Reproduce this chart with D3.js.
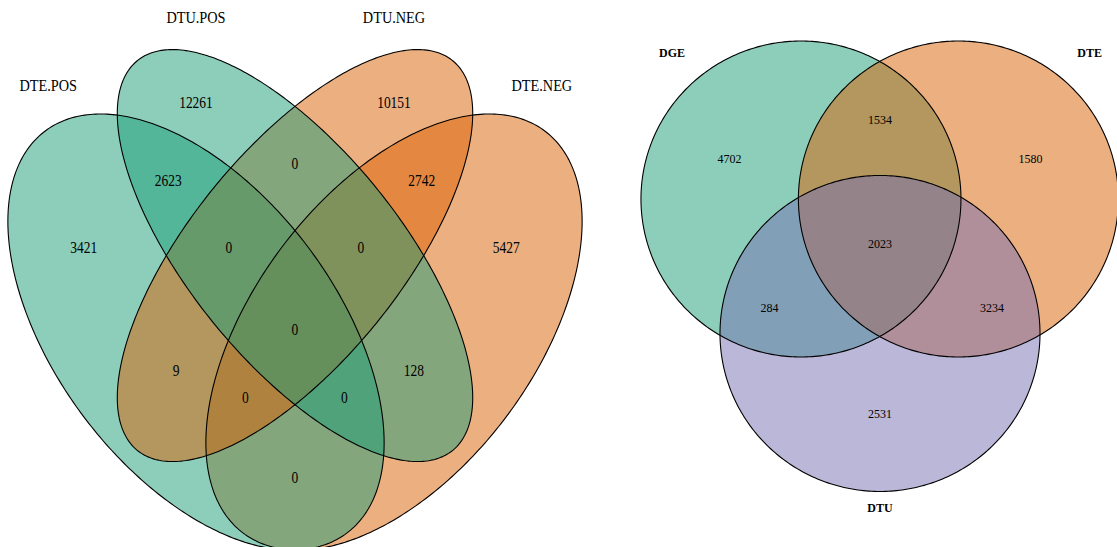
<html>
  <head>
    <meta charset="utf-8">
    <style>
      body { margin: 0; background: #fff; }
      .outline { fill: none; stroke: #000; stroke-width: 1.1px; }
      .num, .cat { font-family: "Liberation Serif", "DejaVu Serif", serif; fill: #000; text-anchor: middle; }
    </style>
  </head>
<body>
  <svg width="1117" height="547"></svg>
  <script src="https://d3js.org/d3.v7.min.js"></script>
  <script>
    // ---- left: four-set Venn ----
    var quadSets = ["DTE.POS", "DTU.POS", "DTU.NEG", "DTE.NEG"];
    var quadColors = ["#1b9e77", "#1b9e77", "#d95f02", "#d95f02"];
    // region code = membership in quadSets order
    var quadRegions = ["1000", "0100", "0010", "0001", "1100", "0110", "0011", "1110",
                       "0111", "1010", "1111", "0101", "1011", "1101", "1001"];
    var quadCounts  = [3421, 12261, 10151, 5427, 2623, 0, 2742, 0,
                       0, 9, 0, 128, 0, 0, 0];

    // ---- right: three-set Venn ----
    var triSets = ["DGE", "DTE", "DTU"];
    var triColors = ["#1b9e77", "#d95f02", "#7570b3"];
    var triRegions = ["100", "110", "010", "111", "101", "011", "001"];
    var triCounts  = [4702, 1534, 1580, 2023, 284, 3234, 2531];

    var svg = d3.select("svg");

    // layout (npc units of each panel)
    var quadShapes = {
      "DTE.POS": {x: 0.35, y: 0.47, a: 0.35, b: 0.20, rot: -45},
      "DTU.POS": {x: 0.50, y: 0.57, a: 0.35, b: 0.15, rot: -45},
      "DTU.NEG": {x: 0.50, y: 0.57, a: 0.35, b: 0.15, rot: 45},
      "DTE.NEG": {x: 0.65, y: 0.47, a: 0.35, b: 0.20, rot: 45}
    };
    var quadDrawOrder = ["DTE.NEG", "DTE.POS", "DTU.NEG", "DTU.POS"];
    var quadLabelPos = {
      "1000": [0.18, 0.58], "0100": [0.35, 0.77], "0010": [0.65, 0.77], "0001": [0.82, 0.58],
      "1100": [0.308, 0.668], "0110": [0.5, 0.69], "0011": [0.692, 0.668],
      "1110": [0.4, 0.58], "0111": [0.6, 0.58], "1010": [0.32, 0.42], "1111": [0.5, 0.473],
      "0101": [0.68, 0.42], "1011": [0.425, 0.385], "1101": [0.575, 0.385], "1001": [0.5, 0.28]
    };
    var quadCatPos = {
      "DTE.POS": [0.126, 0.793], "DTU.POS": [0.35, 0.881],
      "DTU.NEG": [0.65, 0.881], "DTE.NEG": [0.874, 0.793]
    };

    var xL = d3.scaleLinear().domain([0, 1]).range([-35, 625]);
    var yL = d3.scaleLinear().domain([0, 1]).range([691.6, -73.4]);

    function ellipsePts(e) {
      var r = e.rot * Math.PI / 180;
      return d3.range(0, 2 * Math.PI, Math.PI / 180).map(function(t) {
        var u = e.a * Math.cos(t), v = e.b * Math.sin(t);
        return [e.x + u * Math.cos(r) - v * Math.sin(r), e.y + u * Math.sin(r) + v * Math.cos(r)];
      });
    }

    var lineL = d3.line()
      .x(function(d) { return xL(d[0]); })
      .y(function(d) { return yL(d[1]); })
      .curve(d3.curveLinearClosed);

    var gL = svg.append("g");
    gL.selectAll("path.fill")
      .data(quadDrawOrder)
      .enter().append("path")
        .attr("class", "fill")
        .attr("d", function(s) { return lineL(ellipsePts(quadShapes[s])); })
        .attr("fill", function(s) { return quadColors[quadSets.indexOf(s)]; })
        .attr("fill-opacity", 0.5);
    gL.selectAll("path.outline")
      .data(quadDrawOrder)
      .enter().append("path")
        .attr("class", "outline")
        .attr("d", function(s) { return lineL(ellipsePts(quadShapes[s])); });

    gL.selectAll("text.num")
      .data(quadRegions)
      .enter().append("text")
        .attr("class", "num")
        .attr("transform", function(r) {
          var p = quadLabelPos[r];
          return "translate(" + xL(p[0]) + "," + yL(p[1]) + ") scale(1,1.16)";
        })
        .attr("dy", "0.35em")
        .style("font-size", "13.5px")
        .text(function(r, i) { return quadCounts[i]; });

    gL.selectAll("text.cat")
      .data(quadSets)
      .enter().append("text")
        .attr("class", "cat")
        .attr("transform", function(s) {
          var p = quadCatPos[s];
          return "translate(" + xL(p[0]) + "," + yL(p[1]) + ") scale(1,1.16)";
        })
        .attr("dy", "0.35em")
        .style("font-size", "14.3px")
        .text(function(s) { return s; });

    // ---- right panel layout (radius units) ----
    var triCenters = {"DGE": [-0.494, 0.424], "DTE": [0.49, 0.424], "DTU": [0, -0.427]};
    var triLabelPos = {
      "100": [-0.94, 0.68], "110": [0, 0.93], "010": [0.94, 0.68], "111": [0, 0.145],
      "101": [-0.69, -0.26], "011": [0.70, -0.26], "001": [0, -0.935]
    };
    var triCatPos = {"DGE": [-1.3, 1.354], "DTE": [1.31, 1.354], "DTU": [0, -1.525]};

    var xR = d3.scaleLinear().domain([-1, 1]).range([720, 1040]);
    var yR = d3.scaleLinear().domain([-1, 1]).range([424, 108]);

    var lineR = d3.line()
      .x(function(d) { return xR(d[0]); })
      .y(function(d) { return yR(d[1]); })
      .curve(d3.curveLinearClosed);

    function circlePts(c) {
      return ellipsePts({x: c[0], y: c[1], a: 1, b: 1, rot: 0});
    }

    var gR = svg.append("g");
    gR.selectAll("path.fill")
      .data(triSets)
      .enter().append("path")
        .attr("class", "fill")
        .attr("d", function(s) { return lineR(circlePts(triCenters[s])); })
        .attr("fill", function(s, i) { return triColors[i]; })
        .attr("fill-opacity", 0.5);
    gR.selectAll("path.outline")
      .data(triSets)
      .enter().append("path")
        .attr("class", "outline")
        .attr("d", function(s) { return lineR(circlePts(triCenters[s])); });

    gR.selectAll("text.num")
      .data(triRegions)
      .enter().append("text")
        .attr("class", "num")
        .attr("transform", function(r) {
          var p = triLabelPos[r];
          return "translate(" + xR(p[0]) + "," + yR(p[1]) + ") scale(1,1.1)";
        })
        .attr("dy", "0.35em")
        .style("font-size", "12px")
        .text(function(r, i) { return triCounts[i]; });

    gR.selectAll("text.cat")
      .data(triSets)
      .enter().append("text")
        .attr("class", "cat")
        .attr("transform", function(s) {
          var p = triCatPos[s];
          return "translate(" + xR(p[0]) + "," + yR(p[1]) + ") scale(1,1.1)";
        })
        .attr("dy", "0.35em")
        .style("font-size", "12px")
        .style("font-weight", "bold")
        .text(function(s) { return s; });
  </script>
</body>
</html>
